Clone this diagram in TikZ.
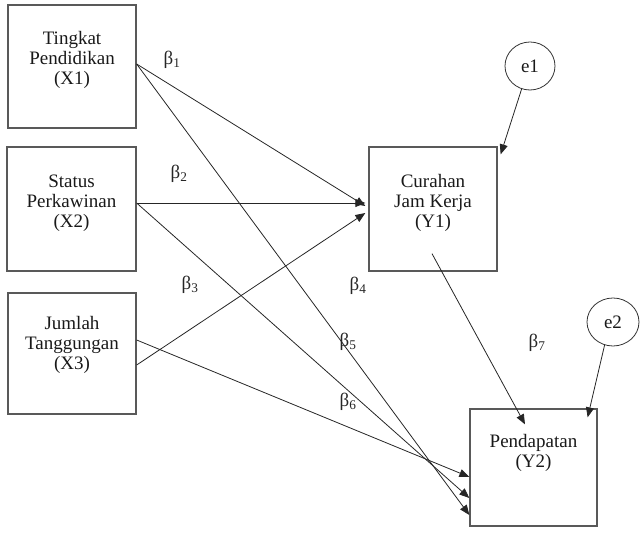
\documentclass[tikz,border=0pt]{standalone}
\usepackage{fontspec}
\setmainfont{Liberation Serif}
\usetikzlibrary{calc,arrows.meta,shapes.geometric}
\begin{document}
\begin{tikzpicture}[x=1pt,y=-1pt,
  box/.style={draw=black!65,line width=1.3pt,inner sep=0pt},
  txt/.style={align=center,font=\fontsize{19}{20}\selectfont,text=black!90},
  err/.style={ellipse,draw=black!80,line width=0.8pt,minimum width=50pt,minimum height=48pt,inner sep=0pt,font=\fontsize{19}{20}\selectfont,text=black!90},
  link/.style={draw=black!85,line width=0.8pt,-{Triangle[length=10pt,width=8pt]}},
  coef/.style={font=\fontsize{19}{19}\selectfont,text=black!85,inner sep=0pt}
]
\useasboundingbox (0,0) rectangle (641,534);

% boxes
\node[box,minimum width=128pt,minimum height=123pt] (X1) at (72,66.5) {};
\node[txt] (X1t) at (72,60) {Tingkat\\Pendidikan\\(X1)};
\node[box,minimum width=129pt,minimum height=124pt] (X2) at (71.5,209) {};
\node[txt] (X2t) at (71.5,203) {Status\\Perkawinan\\(X2)};
\node[box,minimum width=128pt,minimum height=121pt] (X3) at (72,353.5) {};
\node[txt] (X3t) at (72,345) {Jumlah\\Tanggungan\\(X3)};
\node[box,minimum width=128pt,minimum height=124pt] (Y1) at (433,209) {};
\node[txt] (Y1t) at (433,203) {Curahan\\Jam Kerja\\(Y1)};
\node[box,minimum width=127pt,minimum height=117pt] (Y2) at (533.5,467.5) {};
\node[txt] (Y2t) at (533.5,453) {Pendapatan\\(Y2)};

% error terms
\node[err] (e1) at (530,66) {e1};
\node[err,minimum width=52pt] (e2) at (613,322) {e2};

% coefficients
\node[coef] (b1) at (172,60) {β\textsubscript{1}};
\node[coef] (b2) at (179,174) {β\textsubscript{2}};
\node[coef] (b3) at (190,285) {β\textsubscript{3}};
\node[coef] (b4) at (358,286) {β\textsubscript{4}};
\node[coef] (b5) at (348,342) {β\textsubscript{5}};
\node[coef] (b6) at (348,402) {β\textsubscript{6}};
\node[coef] (b7) at (537,343) {β\textsubscript{7}};

% paths to Y1
\draw[link] ($(X1.east)+(0,-2.5)$) -- ($(Y1.west)+(-3,-3)$);
\draw[link] ($(X2.east)+(0,-6)$) -- ($(Y1.west)+(-3,-6)$);
\draw[link] ($(X3.east)+(0,11.5)$) -- ($(Y1.west)+(-3,4)$);
% paths to Y2
\draw[link] ($(X1.east)+(0,-2.5)$) -- ($(Y2.west)+(0,47.5)$);
\draw[link] ($(X2.east)+(0,-6)$) -- ($(Y2.west)+(0,30.5)$);
\draw[link] ($(X3.east)+(0,-13.5)$) -- ($(Y2.west)+(0,9.5)$);
\draw[link] ($(Y1.south)+(-1,-18)$) -- ($(Y2.north)+(-8.5,16)$);
% error arrows
\draw[link] (e1.250) -- ($(Y1.north east)+(3,8)$);
\draw[link] (e2.250) -- ($(Y2.north east)+(-10,9)$);
\end{tikzpicture}
\end{document}
